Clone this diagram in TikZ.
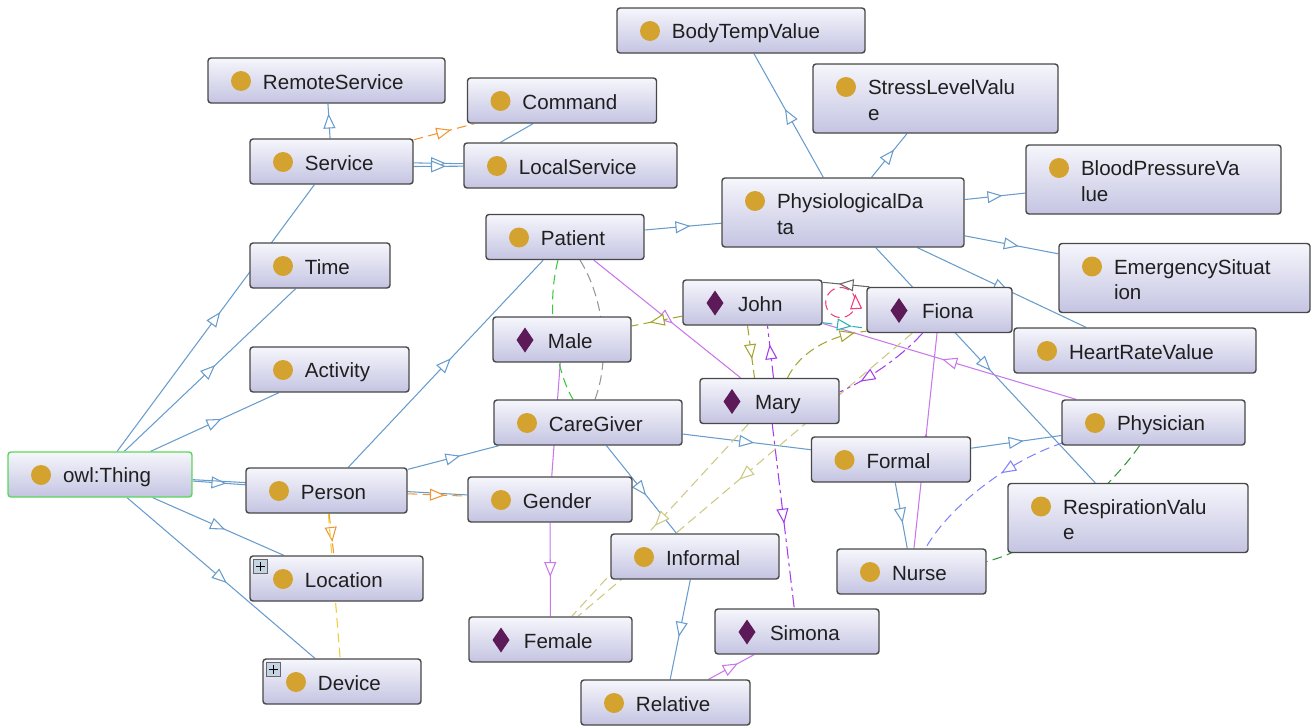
\documentclass[tikz,border=0pt]{standalone}
\usepackage{fontspec}
\setmainfont{Liberation Sans}
\usetikzlibrary{positioning,arrows.meta,calc,backgrounds,decorations.markings}

\definecolor{boxtop}{RGB}{246,246,252}
\definecolor{boxbot}{RGB}{196,196,226}
\definecolor{boxline}{RGB}{72,72,72}
\definecolor{clsdot}{RGB}{212,162,46}
\definecolor{inddot}{RGB}{92,26,88}
\definecolor{thingline}{RGB}{90,215,90}
\definecolor{plusfill}{RGB}{196,212,226}
\definecolor{isablue}{RGB}{104,156,204}
\definecolor{lilac}{RGB}{200,120,235}
\definecolor{mviolet}{RGB}{165,60,235}
\definecolor{orangeline}{RGB}{240,150,50}
\definecolor{yellowline}{RGB}{240,205,50}
\definecolor{oliveline}{RGB}{165,165,45}
\definecolor{khakiline}{RGB}{205,200,130}
\definecolor{greenline}{RGB}{60,200,60}
\definecolor{darkgreenline}{RGB}{55,150,55}
\definecolor{grayline}{RGB}{150,150,150}
\definecolor{pinkline}{RGB}{245,60,120}
\definecolor{tealline}{RGB}{40,180,180}
\definecolor{lavline}{RGB}{130,130,250}

\newcommand{\clsstrut}{\rule[-1.5pt]{0pt}{13.2pt}}

\tikzset{
  box/.style={rectangle, rounded corners=0.06cm, draw=boxline, line width=0.8pt,
    top color=boxtop, bottom color=boxbot, inner xsep=0.2cm, inner ysep=0pt,
    align=left, text=black!88, font=\fontsize{11.7pt}{14.7pt}\selectfont},
  cls/.style={box, path picture={\fill[clsdot] ([shift={(0.66cm,-0.46cm)}]path picture bounding box.north west) circle (0.2cm);}},
  ind/.style={box, path picture={\fill[inddot, sharp corners] ([shift={(0.64cm,-0.21cm)}]path picture bounding box.north west)
    -- ++(0.17cm,-0.25cm) -- ++(-0.17cm,-0.25cm) -- ++(-0.17cm,0.25cm) -- cycle;}},
  plusbox/.style={rectangle, draw=black!60, fill=plusfill, minimum size=0.28cm, inner sep=0pt, line width=0.4pt,
    path picture={\draw[black, line width=0.8pt] ([xshift=-0.09cm]path picture bounding box.center) -- ++(0.18cm,0)
      ([yshift=-0.09cm]path picture bounding box.center) -- ++(0,0.18cm);}},
  midtip/.style={postaction={decorate, decoration={markings, mark=at position #1 with
    {\arrow[xshift=0.15cm]{Triangle[length=0.3cm, width=0.24cm, fill=white]}}}}},
  midtip/.default=0.5,
  subcls/.style={line width=0.6pt, draw=isablue, midtip},
  inst/.style={line width=0.6pt, draw=lilac, midtip},
  rel/.style={line width=0.6pt, draw=#1, dash pattern=on 5.5pt off 3pt},
  reldot/.style={line width=0.6pt, draw=#1, dash pattern=on 7pt off 2.5pt on 2pt off 2.5pt},
}

\begin{document}
\begin{tikzpicture}[x=0.02cm,y=-0.02cm]
  \useasboundingbox (0,0) rectangle (1311,727);
  % classes: name, x, y, width, height, label
  \foreach \n/\x/\y/\w/\h/\t in {
    remote/326.5/80.5/237/45/RemoteService,
    command/562/100.5/189/45/Command,
    service/331.5/161.5/163/45/Service,
    local/570.5/165.5/213/45/LocalService,
    bodytemp/741/30.5/248/45/BodyTempValue,
    stress/935.5/98.5/245/69/StressLevelValu\\e,
    blood/1153.5/179.5/255/69/BloodPressureVa\\lue,
    physio/843/212.5/242/69/PhysiologicalDa\\ta,
    emerg/1184.5/278/251/69/EmergencySituat\\ion,
    heart/1135/350.5/242/45/HeartRateValue,
    patient/565/237/158/45/Patient,
    time/320/265.5/140/45/Time,
    activity/329.5/369.5/159/45/Activity,
    caregiver/588/422.5/188/45/CareGiver,
    physician/1153.5/422.5/183/45/Physician,
    formal/891/459.5/159/45/Formal,
    person/326.5/490.5/161/45/Person,
    gender/550/499.5/164/45/Gender,
    resp/1128/518/240/69/RespirationValu\\e,
    informal/695/556.5/168/45/Informal,
    nurse/911.5/571.5/149/45/Nurse,
    location/336.5/578.5/173/45/Location,
    device/342/681.5/158/45/Device,
    relative/665.5/702.5/169/45/Relative}{
    \pgfmathsetmacro\tw{(\w-20)*0.02}
    \node[cls, text width=\tw cm, minimum height=\h*0.02cm] (\n) at (\x,\y)
      {\leftskip=0.9cm\relax\clsstrut\t\clsstrut\par};
  }
  \node[cls, draw=thingline, text width=3.28cm, minimum height=0.9cm] (thing) at (100,474.5)
    {\leftskip=0.9cm\relax\clsstrut owl:Thing\clsstrut\par};
  % individuals
  \foreach \n/\x/\y/\w/\t in {
    john/752.5/302.5/139/John,
    fiona/939.5/310/145/Fiona,
    male/562/339.5/138/Male,
    mary/769.5/401/139/Mary,
    female/550.5/639.5/163/Female,
    simona/797/631.5/164/Simona}{
    \pgfmathsetmacro\tw{(\w-20)*0.02}
    \node[ind, text width=\tw cm, minimum height=0.9cm] (\n) at (\x,\y)
      {\leftskip=0.9cm\relax\clsstrut\t\clsstrut\par};
  }
  % expand markers
  \node[plusbox] (locplus) at ([shift={(0.22cm,-0.22cm)}]location.north west) {};
  \node[plusbox] (devplus) at ([shift={(0.22cm,-0.22cm)}]device.north west) {};

  \begin{pgfonlayer}{background}
    % subclass arcs
    \foreach \a/\b in {thing/time, thing/service, thing/activity, thing/person, thing/gender,
      thing/location, thing/device, service/remote, service/local, person/patient,
      person/caregiver, patient/physio, physio/bodytemp, physio/stress, physio/blood,
      physio/emerg, physio/heart, physio/resp, caregiver/formal, caregiver/informal,
      formal/physician, formal/nurse, informal/relative}
      \draw[subcls] (\a) -- (\b);
    \draw[subcls] ($(service.east)+(0,5)$) -- (local);
    \draw[line width=0.6pt, isablue] ($(command.south)+(-29,0)$) -- ($(local.north)+(-70,0)$);
    % instance arcs
    \foreach \a/\b in {gender/male, gender/female, patient/mary, physician/john, nurse/fiona, relative/simona}
      \draw[inst] (\a) -- (\b);
    % property arcs
    \draw[rel=orangeline, midtip] (service) -- (command);
    \draw[rel=orangeline, midtip] (person) -- (gender);
    \draw[rel=orangeline, midtip] (person) -- (location);
    \draw[rel=yellowline, midtip] (person) -- (device);
    \draw[rel=greenline] ($(patient.south)+(-7,0)$) .. controls (546,305) and (555,370) .. ($(caregiver.north)+(-15,0)$);
    \draw[rel=grayline] ($(patient.south)+(15,0)$) .. controls (605,300) and (610,360) .. ($(caregiver.north)+(7,0)$);
    \draw[rel=oliveline, midtip] (john) -- (male);
    \draw[rel=oliveline, midtip] ($(john.south)+(-5,0)$) -- ($(mary.north)+(-15,0)$);
    \draw[reldot=mviolet, midtip] ($(mary.north)+(4,0)$) -- ($(john.south)+(15,0)$);
    \draw[reldot=mviolet, midtip] (mary) -- (simona);
    \draw[rel=khakiline, midtip] (mary) -- (female);
    \draw[rel=khakiline, midtip] (fiona) -- (female);
    \draw[rel=oliveline, midtip=0.8] ($(mary.north)+(18,0)$) .. controls (800,352) and (830,335) .. ($(fiona.south west)+(0,-2)$);
    \draw[reldot=mviolet, midtip=0.7] ($(fiona.south)+(-17,0)$) .. controls (900,358) and (870,378) .. ($(mary.east)+(0,-9)$);
    \draw[line width=0.6pt, draw=gray!80!black, midtip] ($(fiona.north west)+(3,0)$) -- ($(john.north east)+(0,3)$);
    \draw[rel=tealline, midtip] ($(john.south east)+(0,-3)$) -- ($(fiona.south west)+(0,-5)$);
    \draw[rel=pinkline, midtip=0.01] ($(john.east)+(18,0)$) circle (0.3cm);
    \draw[rel=lavline, midtip=0.35] ($(physician.south west)+(2,-3)$) .. controls (1010,460) and (950,505) .. ($(nurse.north)+(14,0)$);
    \draw[rel=darkgreenline] ($(physician.south)+(-14,0)$) .. controls (1105,495) and (1040,548) .. ($(nurse.east)+(0,-10)$);
  \end{pgfonlayer}
\end{tikzpicture}
\end{document}
